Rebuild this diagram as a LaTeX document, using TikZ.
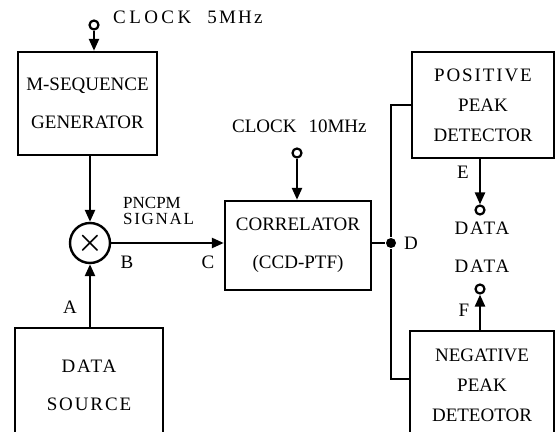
\documentclass[tikz,border=0pt]{standalone}
\usepackage{fontspec}
\setmainfont{Liberation Serif}
\usetikzlibrary{arrows.meta, positioning}

\newcommand{\spaced}[1]{{\addfontfeature{LetterSpace=10}#1}}

\begin{document}
\begin{tikzpicture}[
    x=0.5pt, y=-0.5pt,
    line width=1.2pt,
    box/.style={rectangle, draw=black, line width=1.2pt, align=center, font=\fontsize{9.5}{19}\selectfont, inner sep=0pt},
    tallbox/.style={box, font=\fontsize{9.5}{15}\selectfont},
    lbl/.style={font=\fontsize{9.5}{11}\selectfont, inner sep=0pt},
    term/.style={circle, draw=black, line width=1.1pt, minimum size=4.5pt, inner sep=0pt},
    arrow/.style={-{Triangle[length=6pt,width=5pt]}}
]
\useasboundingbox (0,0) rectangle (557,432);

% blocks
\node[box, minimum width=69.5pt, minimum height=51.5pt] (mseq) at (87.5,103.5) {M-SEQUENCE\\GENERATOR};
\node[box, minimum width=74pt, minimum height=57pt] (source) at (89,385) {\spaced{DATA}\\\spaced{SOURCE}};
\node[box, minimum width=73pt, minimum height=44.5pt] (corr) at (298,245.5) {CORRELATOR\\(CCD-PTF)};
\node[tallbox, minimum width=71pt, minimum height=53pt] (pos) at (483,105) {\spaced{POSITIVE}\\PEAK\\DETECTOR};
\node[tallbox, minimum width=72pt, minimum height=54pt] (neg) at (482,385) {NEGATIVE\\PEAK\\DETEOTOR};
\node[circle, draw=black, line width=1.2pt, minimum size=20pt, inner sep=0pt, font=\Large\boldmath] (mix) at (90,243) {$\times$};

% terminals
\node[term] (clk5) at (94,25) {};
\node[term] (clk10) at (297,153) {};
\node[term] (outE) at (480,210) {};
\node[term] (outF) at (480,289) {};
\node[circle, fill=black, minimum size=5pt, inner sep=0pt] (dot) at (391,243) {};

% labels
\node[lbl, anchor=west] (lclk5) at (112,17) {{\addfontfeature{LetterSpace=18}CLOCK}\hspace{8pt}{\addfontfeature{LetterSpace=12}5MHz}};
\node[lbl, anchor=west] (lclk10) at (231,126) {CLOCK\hspace{6pt}10MHz};
\node[lbl, anchor=west, align=left, font=\fontsize{8.5}{8}\selectfont] (lsig) at (122,211) {PNCPM\\\spaced{SIGNAL}};
\node[lbl] (lA) at (70,307) {A};
\node[lbl] (lB) at (127,262) {B};
\node[lbl] (lC) at (208,262) {C};
\node[lbl] (lD) at (411,243) {D};
\node[lbl] (lE) at (463,172) {E};
\node[lbl] (lF) at (464,310) {F};
\node[lbl] (ldata1) at (482,228) {\spaced{DATA}};
\node[lbl] (ldata2) at (482,266) {\spaced{DATA}};

% connections
\draw[arrow] (clk5) -- (clk5 |- mseq.north);
\draw[arrow] (clk10) -- (clk10 |- corr.north);
\draw[arrow] (mseq.south -| mix) -- (mix);
\draw[arrow] (source.north -| mix) -- (mix);
\draw[arrow] (mix) -- (mix -| corr.west);
\draw (corr.east |- dot) -- (dot);
\draw (pos.west) -| (dot) |- ([yshift=-24.5pt]neg.north west);
\draw[arrow] (outE |- pos.south) -- (outE);
\draw[arrow] (outF |- neg.north) -- (outF);

\end{tikzpicture}
\end{document}
